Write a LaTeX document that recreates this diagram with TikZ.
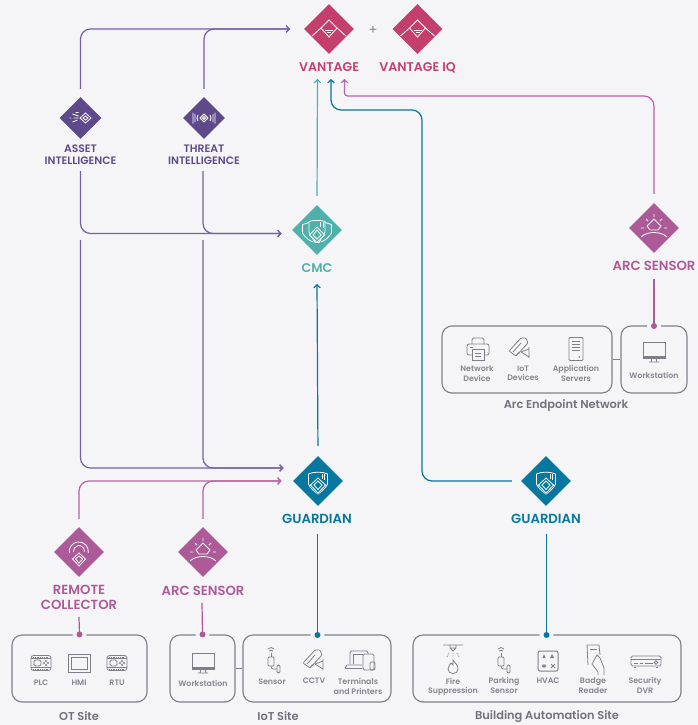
\documentclass[tikz,border=0pt]{standalone}
\usepackage{fontspec}
\setmainfont{Poppins}[BoldFont={Poppins SemiBold}]
\usetikzlibrary{shapes.geometric,arrows.meta,calc}
\definecolor{bgc}{HTML}{F5F5F8}
\definecolor{vanc}{HTML}{C53F6C}
\definecolor{purc}{HTML}{5E4A8B}
\definecolor{purl}{HTML}{7561A3}
\definecolor{teac}{HTML}{50B0AC}
\definecolor{bluc}{HTML}{07779F}
\definecolor{pinc}{HTML}{AD5A98}
\definecolor{pinl}{HTML}{BC62A6}
\definecolor{gryc}{HTML}{7F7F8A}
\definecolor{grtx}{HTML}{85858F}
\tikzset{
 bigd/.style={diamond,aspect=1,inner sep=0,minimum width=50pt,minimum height=50pt,fill=#1},
 smalld/.style={diamond,aspect=1,inner sep=0,minimum width=42pt,minimum height=42pt,fill=purc},
 ttl/.style={text=#1,font=\fontsize{12.6}{14.8}\selectfont\bfseries,inner sep=0,align=center},
 ttlw/.style={text=#1,font=\fontsize{13.2}{15}\selectfont\bfseries,inner sep=0,align=center},
 ttls/.style={text=purc,font=\fontsize{10.8}{12}\selectfont\bfseries,inner sep=0,align=center},
 site/.style={draw=gryc,line width=1.1pt,rounded corners=10pt},
 itm/.style={text=grtx,font=\fontsize{7.9}{9.3}\selectfont\bfseries,inner sep=0,align=center},
 sitelbl/.style={text=gryc!90!black,font=\fontsize{11.4}{12}\selectfont\bfseries,inner sep=0},
 conn/.style={draw=#1,line width=1.2pt,rounded corners=10pt,-{Straight Barb[length=3pt,width=6.5pt]}},
 stem/.style={draw=#1,line width=1.2pt},
 gapc/.style={circle,fill=bgc,minimum size=14pt,inner sep=0},
 dotc/.style={circle,fill=#1,minimum size=6pt,inner sep=0},
 wl/.style={draw=white,line width=.8pt,fill=none,line join=miter},
 gl/.style={draw=gryc,line width=.8pt,fill=none},
 pics/vanicon/.style={code={
   \path[wl] (-17,7)--(-8,-1)--(0,8)--(8,-1)--(17,7);
   \path[wl] (-8,-1)--(0,-9)--(8,-1);
   \path[wl] (-4,1)--(4,1) (-2,3.5)--(2,3.5);}},
 pics/assetb/.style={code={
   \path[wl] (5,-5)--(10.5,0)--(5,5)--(-.5,0)--cycle (5,-2)--(7.5,0)--(5,2)--(2.5,0)--cycle;
   \path[wl] (-11,0)--(-9.5,0) (-7,0)--(-2,0) (-8,-4)--(-2,-2) (-8,4)--(-3,2) (-5,-5.5)--(-2,-5.5);}},
 pics/threaticon/.style={code={
   \path[wl] (0,-4)--(4,0)--(0,4)--(-4,0)--cycle (0,-1.5)--(1.5,0)--(0,1.5)--(-1.5,0)--cycle;
   \path[wl] (-11,-5.5)--(-11,5.5) (11,-5.5)--(11,5.5) (-9,-4)--(-9,4) (9,-4)--(9,4) (-6,-3)--(-7,0)--(-6,3) (6,-3)--(7,0)--(6,3);}},
 pics/shield/.style={code={
   \path[wl] (-9.5,-7) .. controls (-4,-9.5) and (4,-9.5) .. (9.5,-7) -- (9.5,3) .. controls (8,7) and (4,10) .. (0,13) .. controls (-4,10) and (-8,7) .. (-9.5,3) -- cycle;
   \path[fill=#1] (0,-3)--(8,4)--(0,13)--(-8,4)--cycle;
   \path[wl] (0,-3)--(7.5,4)--(0,12)--(-7.5,4)--cycle (0,0)--(4,4)--(0,8.5)--(-4,4)--cycle;
   \path[wl] (4,-7)--(4,-2) (6.8,-7)--(6.8,-1);}},
 pics/cmcicon/.style={code={
   \path[wl] (-8,-8.5) .. controls (-3,-10) and (3,-10) .. (8,-8.5) -- (8,2) -- (2,12.5) -- (-2,12.5) -- (-8,2) -- cycle;
   \path[wl] (-8,-7.5) -- (-14.5,-5.5) -- (-14.5,3) .. controls (-12,7) and (-9,10) .. (-4,12);
   \path[wl] (8,-7.5) -- (14.5,-5.5) -- (14.5,3) .. controls (12,7) and (9,10) .. (4,12);
   \path[fill=teac] (0,-3)--(8,5)--(0,13)--(-8,5)--cycle;
   \path[wl] (0,-3)--(7.5,5)--(0,12.5)--(-7.5,5)--cycle (0,0)--(4,5)--(0,9)--(-4,5)--cycle;
   \path[wl] (3,-8)--(3,-3) (6,-8)--(6,-2);}},
 pics/arcicon/.style={code={
   \path[wl] (0,-9)--(7,-2)--(4,2)--(-4,2)--(-7,-2)--cycle;
   \path[wl] (-13,9) .. controls (-7,3) and (7,3) .. (13,9);
   \path[wl] (0,-14)--(0,-11) (-8,-9)--(-6,-7) (8,-9)--(6,-7) (-13,0)--(-10,0) (13,0)--(10,0);}},
 pics/rcicon/.style={code={
   \path[wl] (-9.5,1) arc[start angle=170,end angle=370,radius=9.5];
   \path[wl] (-5.5,0) arc[start angle=170,end angle=370,radius=5.5];
   \path[fill=pinc] (0,0)--(7.5,7)--(0,15)--(-7.5,7)--cycle;
   \path[wl] (0,1)--(6.5,7)--(0,14)--(-6.5,7)--cycle (0,4)--(3.5,7)--(0,11)--(-3.5,7)--cycle;}},
 pics/screen/.style={code={
   \path[gl] (-11,-9) rectangle (11,7);
   \path[fill=gryc] (-11,4.5) rectangle (11,7);
   \path[gl] (-2,7)--(-3,11) (2,7)--(3,11) (-5,11)--(5,11);}},
 pics/printer/.style={code={
   \path[gl,rounded corners=1.5pt] (-6,-5)--(-6,-11)--(6,-11)--(6,-5);
   \path[gl,rounded corners=2pt] (-6,6)--(-11,6)--(-11,-5)--(11,-5)--(11,6)--(6,6);
   \path[gl] (-6,0) rectangle (6,11) (-3,4)--(3,4) (-3,7)--(3,7) (-8,-2)--(-5,-2);}},
 pics/camera/.style={code={
   \path[gl,rounded corners=1pt] (-11,3)--(1,-10)--(6,-10)--(8,-5)--(-4,8)--cycle;
   \path[gl] (-7,4)--(1,-5) (-4,8)--(-2,5)--(0,5);
   \path[gl] (1,4)--(9,1) (1,4)--(9,9) (9,-1)--(9,10);}},
 pics/server/.style={code={
   \path[gl,rounded corners=1pt] (-7,-11.5) rectangle (7,11.5);
   \path[gl] (-4,-8)--(4,-8) (-4,-5)--(4,-5) (-4,-2)--(4,-2) (-4,1)--(4,1);
   \path[fill=gryc] (3.5,8) circle (.8);}},
 pics/plc/.style={code={
   \path[gl,rounded corners=2.5pt] (-10,-7.5) rectangle (10,7.5);
   \path[gl] (-10,-4.5)--(10,-4.5) (-10,4.5)--(10,4.5);
   \path[gl,rounded corners=1.5pt] (-7,-3) rectangle (0,3);
   \path[gl] (3,0) circle (.6) (7,0) circle (.6) (5,-2) circle (.6) (5,2) circle (.6);
   \path[gl,densely dotted] (-8,-6)--(8,-6) (-8,6)--(8,6);}},
 pics/hmi/.style={code={
   \path[gl,line width=1pt] (-11,-9) rectangle (11,9);
   \path[gl] (-8,-6) rectangle (8,6);}},
 pics/sensoricon/.style={code={
   \path[gl,rounded corners=1pt] (-6,-3) rectangle (0,6);
   \path[gl] (-3,-3)--(-3,-7);
   \path[gl] (-6,-11) .. controls (-4,-13) and (-2,-13) .. (0,-11) (-5,-9) .. controls (-4,-10) and (-2,-10) .. (-1,-9);
   \path[gl] (-3,6) .. controls (-3,10) and (1,9) .. (3,9);
   \path[gl,rounded corners=1.3pt] (3,5) rectangle (6,13);}},
 pics/laptop/.style={code={
   \path[gl,rounded corners=1.5pt] (-10,3)--(-10,-10)--(8,-10)--(8,-7);
   \path[gl] (-7,3)--(-7,-7)--(3,-7);
   \path[gl] (-15,7)--(-13,4)--(2,4) (-15,7.5)--(2,7.5);
   \path[gl,rounded corners=1.5pt] (3,-7) rectangle (14,9);
   \path[gl,rounded corners=1.3pt] (10,1) rectangle (15,9);}},
 pics/fire/.style={code={
   \path[gl] (-10,-15)--(10,-15) (-3,-15)--(-3,-12)--(3,-12)--(3,-15) (-3,-12)--(0,-9)--(3,-12);
   \path[gl,densely dotted] (-4,-7)--(-6,-3) (0,-7)--(0,-3) (4,-7)--(6,-3);
   \path[gl] (0,0) .. controls (2,3) and (5,5) .. (5,9) .. controls (5,15) and (-5,15) .. (-5,9) .. controls (-5,6) and (-3,5) .. (-2,3) .. controls (-1,4) and (-1,4) .. (0,5) -- cycle;}},
 pics/hvac/.style={code={
   \path[gl,rounded corners=2pt,line width=1pt] (-10,-10) rectangle (10,10);
   \path[gl] (-6,4)--(-2,6) (-6,6)--(-2,4) (-4,3)--(-4,7) (3,3)--(7,7) (3,7)--(7,3);
   \path[fill=gryc] (-4,-7)--(-2.5,-3)--(-5.5,-3)--cycle (4,-7)--(6,-3)--(2,-3)--cycle;}},
 pics/badge/.style={code={
   \path[gl] (-7,5)--(-8,-15)--(4,-15)--(5,-5);
   \path[gl] (-5,-11)--(2,-11);
   \path[gl] (-3,4)--(2,-5)--(5,-2)--(9,8)--(9,15) (-3,4)--(3,12)--(3,15);}},
 pics/dvr/.style={code={
   \path[gl,rounded corners=1.5pt] (-15,-5) rectangle (15,5);
   \path[gl] (-15,-2)--(15,-2) (-12,2)--(-8,2) (-6,2)--(-3,2) (-1,2)--(7,2) (-12,6)--(-10,6) (10,6)--(12,6);
   \path[gl] (10,1.5) circle (1.8);}},
}
\begin{document}
\begin{tikzpicture}[x=1pt,y=-1pt]
\path[use as bounding box,fill=bgc] (0,0) rectangle (698,725);
% free connector ends
\coordinate (assetlow) at (80.5,240);
\coordinate (threatlow) at (203,240);
\coordinate (cmcin) at (281.5,233.5);
\coordinate (gpur) at (283.5,468);
\coordinate (gpin) at (281.5,481);
\coordinate (vin) at (290,29);
\coordinate (vteal) at (317.5,79);
\coordinate (vblue) at (331,79);
\coordinate (vpink) at (344.5,79);
% main diamonds
\node[bigd=vanc] (van) at (329,29) {};
\node[bigd=vanc] (vaniq) at (417.5,29) {};
\node[text=gryc,font=\fontsize{13}{13}\selectfont,inner sep=0] (plus) at (373,30) {+};
\node[ttl=vanc] (vanl) at (329,67.5) {VANTAGE};
\node[ttl=vanc] (vaniql) at (417.5,67.5) {VANTAGE IQ};
\node[smalld] (asset) at (80.5,118) {};
\node[smalld] (threat) at (204,118) {};
\node[ttls] (assetl) at (80.5,155) {ASSET\\INTELLIGENCE};
\node[ttls] (threatl) at (204,155) {THREAT\\INTELLIGENCE};
\node[bigd=teac] (cmc) at (317,230) {};
\node[ttl=teac] (cmcl) at (317,268.5) {CMC};
\node[bigd=bluc] (g1) at (318,481) {};
\node[ttlw=bluc] (g1l) at (317,519) {GUARDIAN};
\node[bigd=bluc] (g2) at (546,481) {};
\node[ttlw=bluc] (g2l) at (546,519) {GUARDIAN};
\node[bigd=pinc] (arcr) at (654,228) {};
\node[ttlw=pinc] (arcrl) at (654,266) {ARC SENSOR};
\node[bigd=pinc] (rc) at (79,552) {};
\node[ttlw=pinc] (rcl) at (79,597.5) {REMOTE\\COLLECTOR};
\node[bigd=pinc] (arcl) at (203,552) {};
\node[ttlw=pinc] (arcll) at (203,591) {ARC SENSOR};
% icons in diamonds
\path (van) pic {vanicon};
\path (vaniq) pic {vanicon};
\path (asset) pic {assetb};
\path (threat) pic {threaticon};
\path (cmc) pic {cmcicon};
\path (g1) pic {shield=bluc};
\path (g2) pic {shield=bluc};
\path (arcr) pic {arcicon};
\path (arcl) pic {arcicon};
\path (rc) pic {rcicon};
% site boxes
\node[site,minimum width=135pt,minimum height=67pt,inner sep=0] (ot) at (79.5,668.5) {};
\node[site,minimum width=65pt,minimum height=67pt,inner sep=0] (wsl) at (202.5,668.5) {};
\node[site,minimum width=148pt,minimum height=67pt,inner sep=0] (iot) at (317,668.5) {};
\node[site,minimum width=268pt,minimum height=67pt,inner sep=0] (bas) at (547,668.5) {};
\node[site,minimum width=170pt,minimum height=67pt,inner sep=0] (arcnet) at (527,359.5) {};
\node[site,minimum width=66pt,minimum height=67pt,inner sep=0] (wsr) at (654,359.5) {};
\draw[gryc,line width=1pt] (wsl.east) -- (iot.west);
\draw[gryc,line width=1pt] (arcnet.east) -- (wsr.west);
% site labels
\node[sitelbl] (otl) at (79,716) {OT Site};
\node[sitelbl] (iotl) at (278,716) {IoT Site};
\node[sitelbl] (basl) at (547,717) {Building Automation Site};
\node[sitelbl] (arcnetl) at (566,406) {Arc Endpoint Network};
% connectors
\draw[conn=purl,shorten <=8pt,shorten >=0pt] (asset.north) |- (vin);
\draw[conn=purl,shorten <=8pt] (threat.north) |- (vin);
\draw[conn=purl] ($(assetl.south)+(0,6)$) |- (cmcin);
\draw[conn=purl] ($(threatl.south)+(-1,6)$) |- (cmcin);
\draw[conn=purl] (assetlow) |- (gpur);
\draw[conn=purl] (threatlow) |- (gpur);
\draw[conn=pinl,shorten <=8pt] (rc.north) |- (gpin);
\draw[conn=pinl,shorten <=8pt] (arcl.north) |- (gpin);
\draw[conn=teac,shorten <=9pt] (cmc.north) -- (vteal);
\draw[conn=bluc,shorten <=10pt] (g1.north) -- (cmcl.south |- 0,284);
\draw[conn=bluc,shorten <=9pt] (g2.west) -- (422,481) -- (422,110) -- (331,110) -- (vblue);
\draw[conn=pinl,shorten <=9pt] (arcr.north) -- (654,96) [rounded corners=3pt] -- (344.5,96) -- (vpink);
% stems into the sites
\node[gapc] at (ot.north) {};
\node[gapc] at (wsl.north) {};
\node[gapc] at (654,326) {};
\node[gapc] at (317.5,635) {};
\node[gapc] at (546.5,635) {};
\draw[stem=pinc] (rcl.south) ++(0,7) coordinate (rcs) -- (ot.north);
\draw[stem=pinc] (arcll.south) ++(-1,7) coordinate (arcs) -- (wsl.north);
\draw[stem=pinc] (arcrl.south) ++(0,8) coordinate (arrs) -- (wsr.north);
\draw[stem=bluc] (g1l.south) ++(0.5,10) coordinate (g1s) -- (317.5,635);
\draw[stem=bluc] (g2l.south) ++(0.5,10) coordinate (g2s) -- (546.5,635);
\node[dotc=pinc] at (ot.north) {};
\node[dotc=pinc] at (wsl.north) {};
\node[dotc=pinc] at (654,326) {};
\node[dotc=bluc] at (317.5,635) {};
\node[dotc=bluc] at (546.5,635) {};
% Arc endpoint network items
\path (478,349) pic {printer};
\path (520,348) pic {camera};
\path (576,349) pic {server};
\path (654,351) pic {screen};
\node[itm] (nd) at (477,373.5) {Network\\Device};
\node[itm] (iotd) at (523,373.5) {IoT\\Devices};
\node[itm] (as) at (576,373.5) {Application\\Servers};
\node[itm] (wsrt) at (654,375) {Workstation};
% OT items
\path (41,663) pic {plc};
\path (79,663) pic {hmi};
\path (117,663) pic {plc};
\node[itm] (plct) at (41,683) {PLC};
\node[itm] (hmit) at (79,683) {HMI};
\node[itm] (rtut) at (117,683) {RTU};
\path (203,662) pic {screen};
\node[itm] (wslt) at (203,683) {Workstation};
% IoT items
\path (274,660) pic {sensoricon};
\path (314,660) pic {camera};
\path (360,661) pic {laptop};
\node[itm] (senst) at (272,682) {Sensor};
\node[itm] (cctvt) at (314,681) {CCTV};
\node[itm] (termt) at (358,686.5) {Terminals\\and Printers};
% Building items
\path (453,660) pic {fire};
\path (504,660) pic {sensoricon};
\path (548,661) pic {hvac};
\path (595,660) pic {badge};
\path (646,661) pic {dvr};
\node[itm] (firet) at (453,687) {Fire\\Suppression};
\node[itm] (park) at (504,685.5) {Parking\\Sensor};
\node[itm] (hvact) at (548,681) {HVAC};
\node[itm] (badget) at (593,685.5) {Badge\\Reader};
\node[itm] (dvrt) at (645,685.5) {Security\\DVR};
\end{tikzpicture}
\end{document}
